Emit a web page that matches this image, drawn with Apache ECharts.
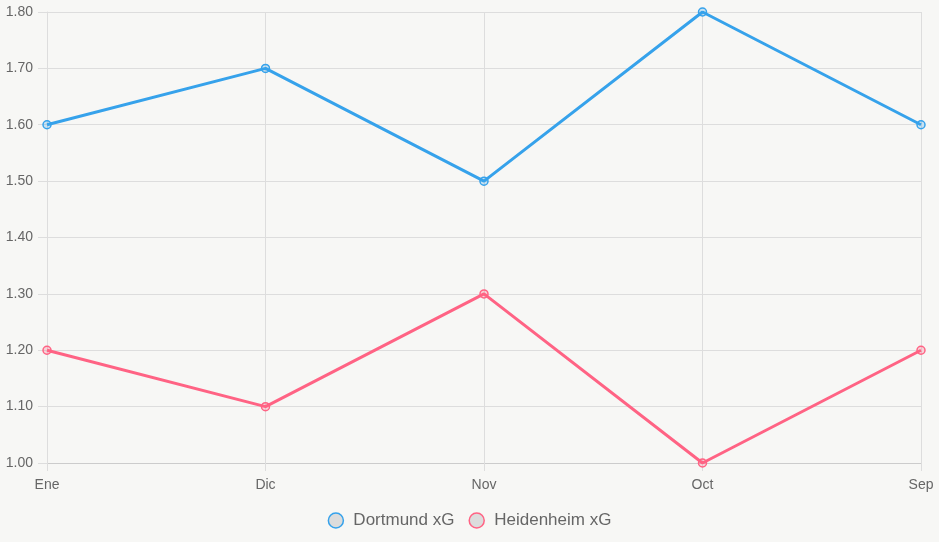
<!DOCTYPE html>
<html lang="es">
<head>
  <meta charset="utf-8" />
  <title>xG</title>
  <script src="https://cdn.jsdelivr.net/npm/echarts@6/dist/echarts.min.js"></script>
  <style>
    html, body { margin: 0; padding: 0; background: #f7f7f5; }
    #main { width: 939px; height: 542px; }
  </style>
</head>
<body>
<div id="main"></div>
<script>
  let months = ['Ene', 'Dic', 'Nov', 'Oct', 'Sep']
  let dortmundXg = [1.6, 1.7, 1.5, 1.8, 1.6]
  let heidenheimXg = [1.2, 1.1, 1.3, 1.0, 1.2]

  let colorBlue = '#36a2eb'
  let colorPink = '#ff6384'
  let gridColor = '#dddddd'
  let textColor = '#666666'
  let fontName = 'Liberation Sans, Arial, sans-serif'

  let chart = echarts.init(document.getElementById('main'))

  function lineSeries(name, data, color, fill) {
    return {
      name: name,
      type: 'line',
      data: data,
      symbol: 'circle',
      symbolSize: 8,
      showSymbol: true,
      lineStyle: { color: color, width: 3 },
      itemStyle: { color: fill, borderColor: color, borderWidth: 1.5 },
      emphasis: { disabled: true },
    }
  }

  chart.setOption({
    backgroundColor: '#f7f7f5',
    animation: false,
    textStyle: { fontFamily: fontName },
    grid: { left: 47, right: 18, top: 12, bottom: 79, containLabel: false },
    legend: {
      bottom: 8,
      left: 'center',
      icon: 'circle',
      itemWidth: 15,
      itemHeight: 15,
      itemGap: 14,
      textStyle: { color: textColor, fontSize: 17, fontFamily: fontName, padding: [0, 0, 0, 5] },
      data: [
        { name: 'Dortmund xG', itemStyle: { color: '#dcdcdc', borderColor: colorBlue, borderWidth: 1.5 } },
        { name: 'Heidenheim xG', itemStyle: { color: '#dcdcdc', borderColor: colorPink, borderWidth: 1.5 } },
      ],
    },
    xAxis: {
      type: 'category',
      data: months,
      boundaryGap: false,
      axisLine: { show: true, lineStyle: { color: '#cccccc' } },
      axisTick: { show: true, alignWithLabel: true, length: 8, lineStyle: { color: gridColor } },
      splitLine: { show: true, lineStyle: { color: gridColor } },
      axisLabel: { color: textColor, fontSize: 14, margin: 15, fontFamily: fontName },
    },
    yAxis: {
      type: 'value',
      min: 1.0,
      max: 1.8,
      interval: 0.1,
      axisLine: { show: true, lineStyle: { color: gridColor } },
      axisTick: { show: true, length: 9, lineStyle: { color: gridColor } },
      splitLine: { show: true, lineStyle: { color: gridColor } },
      axisLabel: {
        color: textColor,
        fontSize: 14,
        margin: 14,
        fontFamily: fontName,
        formatter: function (v) { return v.toFixed(2) },
      },
    },
    series: [
      lineSeries('Dortmund xG', dortmundXg, colorBlue, 'rgba(54,162,235,0.25)'),
      lineSeries('Heidenheim xG', heidenheimXg, colorPink, 'rgba(255,99,132,0.25)'),
    ],
  })
</script>
</body>
</html>
